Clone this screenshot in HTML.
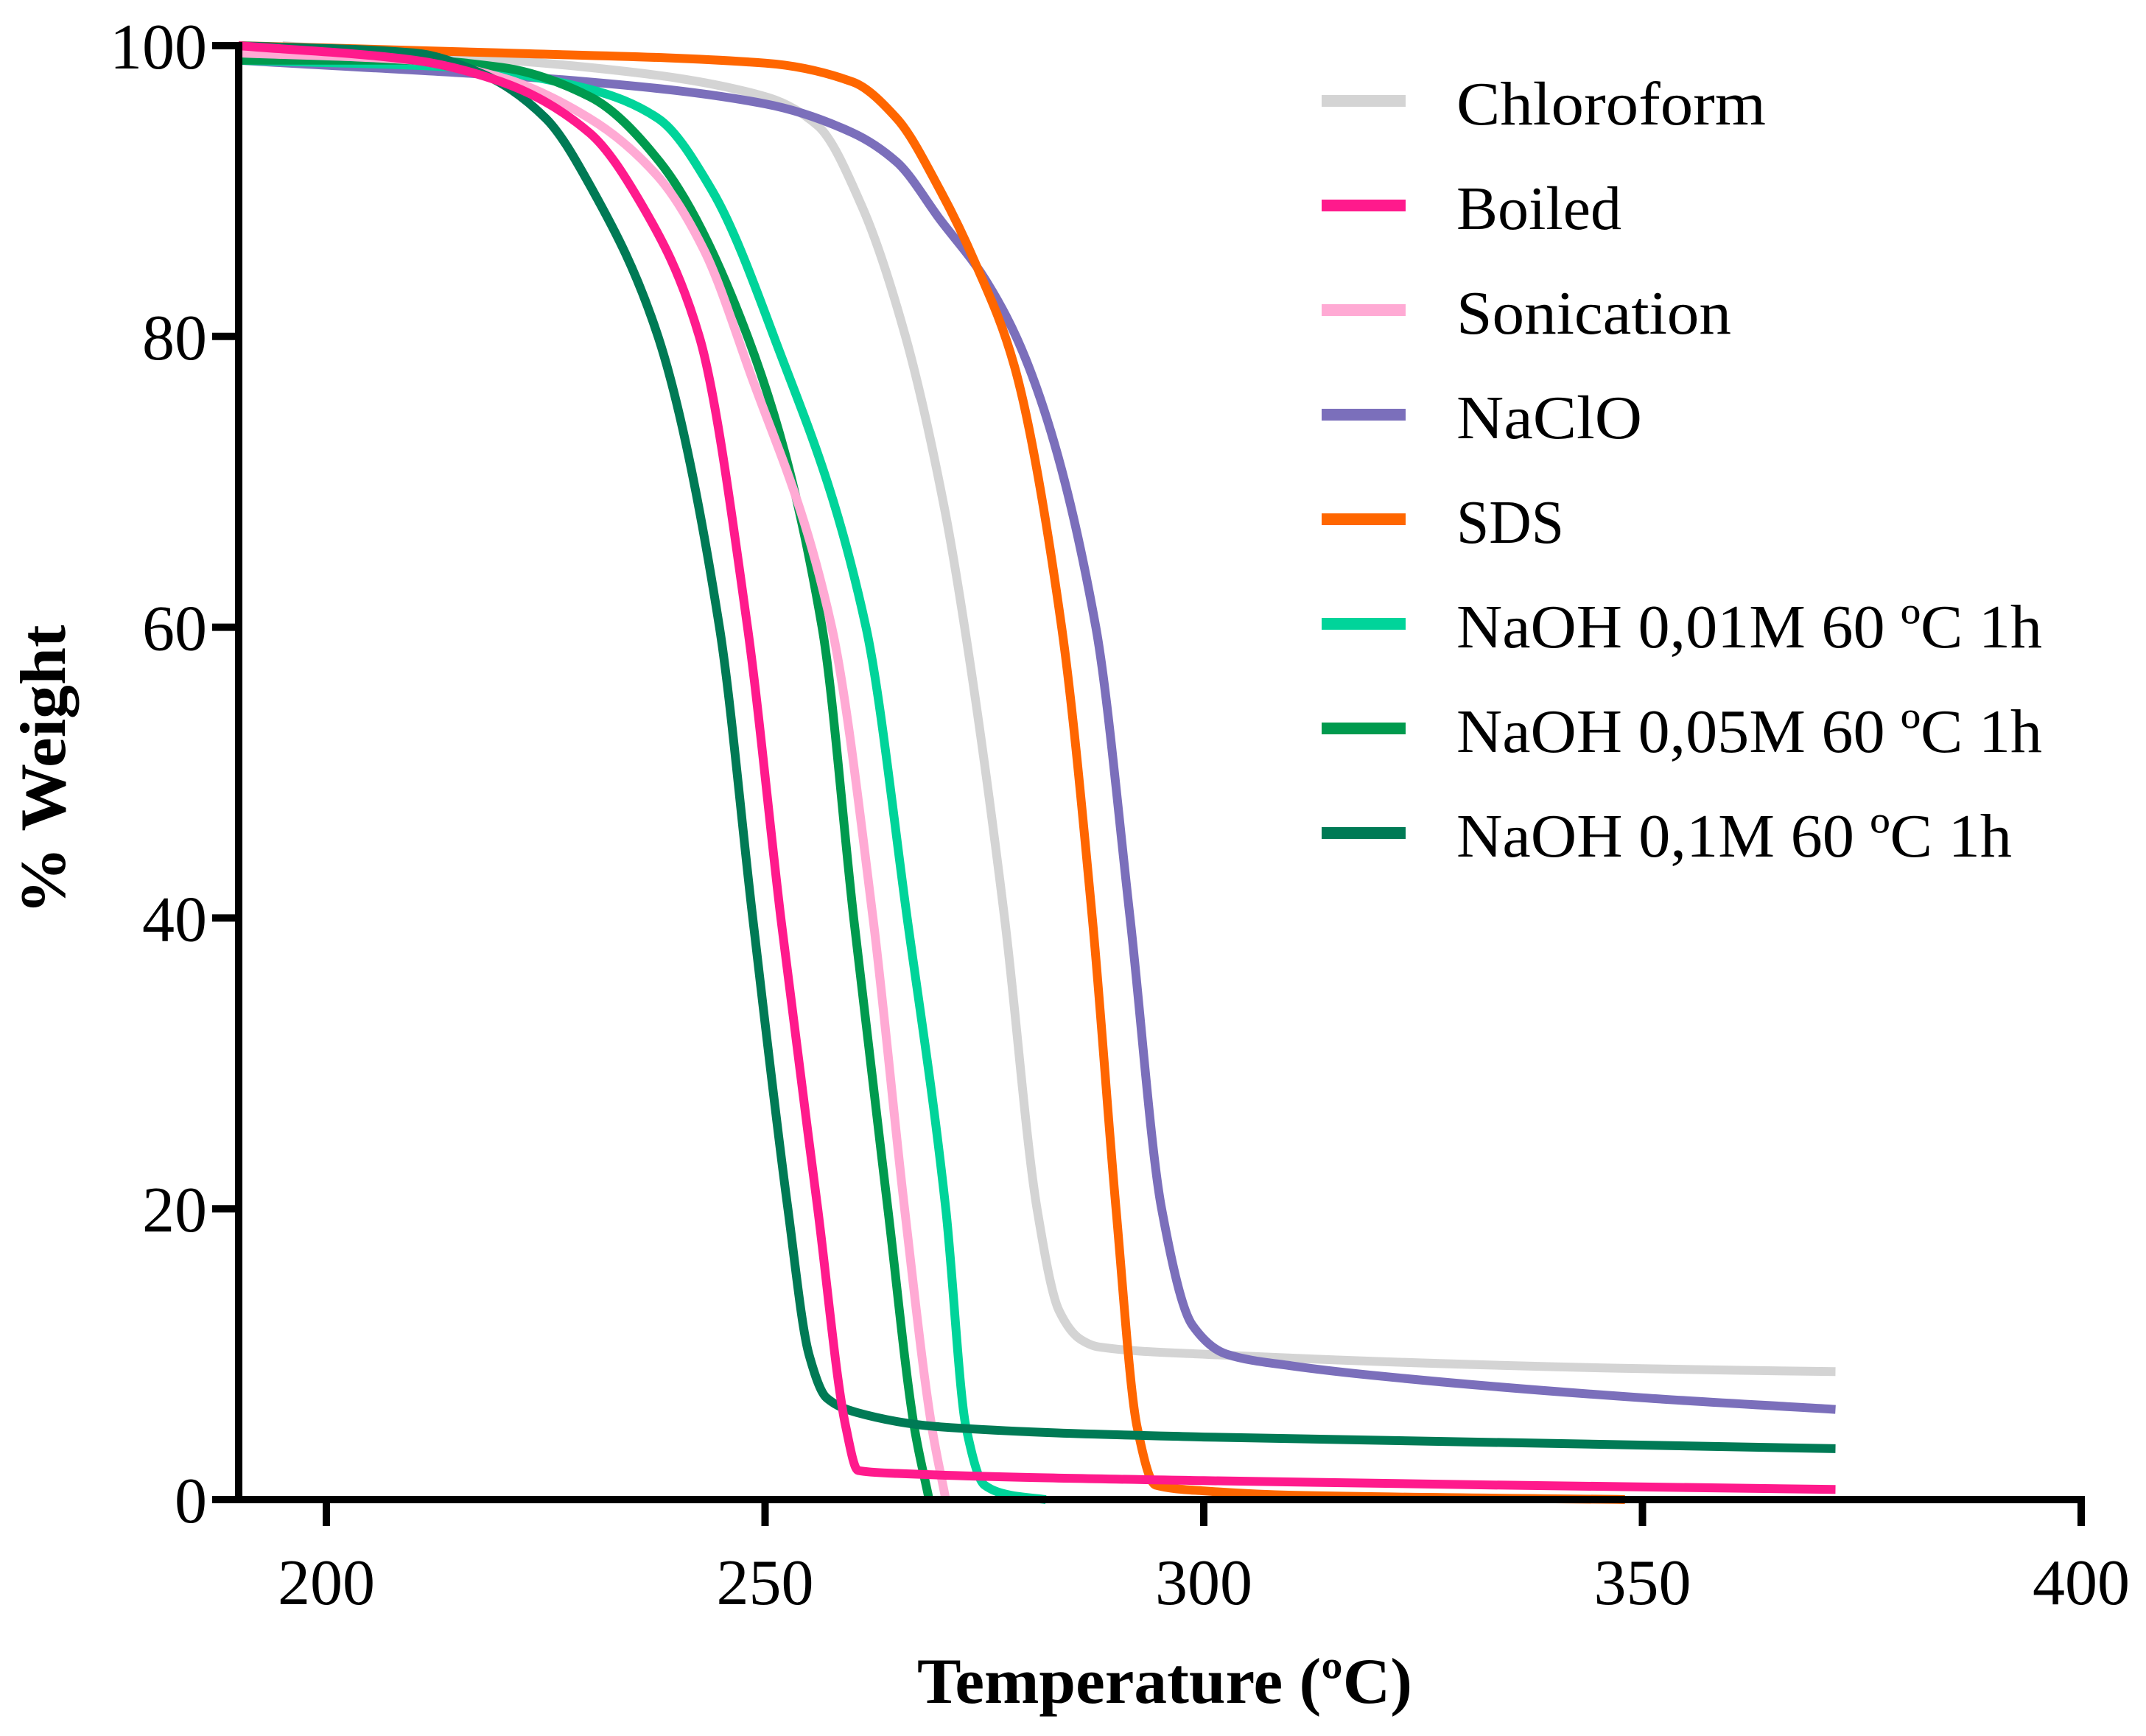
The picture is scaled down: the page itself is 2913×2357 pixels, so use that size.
<!DOCTYPE html>
<html><head><meta charset="utf-8"><style>
html,body{margin:0;padding:0;background:#fff;}
svg{display:block;}
text{font-family:"Liberation Serif",serif;fill:#000;}
</style></head><body>
<svg id="chart" width="2913" height="2357" viewBox="0 0 2913 2357" xmlns="http://www.w3.org/2000/svg">
<g id="plot"></g>
<g id="axes"></g>
<g id="legend"></g>
<text x="0" y="0" transform="translate(88,1045) rotate(-90)" text-anchor="middle" font-size="88" font-weight="bold" textLength="393" lengthAdjust="spacingAndGlyphs">% Weight</text>
<text x="1581" y="2312" text-anchor="middle" font-size="88" font-weight="bold" textLength="672" lengthAdjust="spacingAndGlyphs">Temperature (ºC)</text>
</svg>
<script>
const xTicks = [200, 250, 300, 350, 400];
const yTicks = [0, 20, 40, 60, 80, 100];
const seriesNames = ["Chloroform","Boiled","Sonication","NaClO","SDS","NaOH 0,01M 60 ºC 1h","NaOH 0,05M 60 ºC 1h","NaOH 0,1M 60 ºC 1h"];
const seriesColors = ["#d4d4d4","#ff1a8c","#ffaad4","#7b6fbb","#ff6600","#00d49a","#009a4e","#007a55"];
const chloroT = [195,230,250,256,261,266,270.5,273,277.3,281,283.5,286,288,300,350,372];
const chloroW = [100,98.5,96.5,94.5,89,80,68,59,40,20,13,11,10.5,10,9,8.8];
const boiledT = [190,210,220,230,236,242.5,248,251.8,256,259.2,260.6,265,300,372];
const boiledW = [100,99,97.5,94,89,80,60,40,20,5,2,1.8,1.3,0.7];
const sonicT = [190,210,220,230,237.8,243,248,257.6,262.3,265.9,269,270.6];
const sonicW = [99.5,99,97.8,95,91,86,78,60,40,20,5,0];
const naclT = [190,230,250,260,265,270,275,280,287.7,291.6,295.2,298.7,302.6,310,320,350,372];
const naclW = [99,97.5,96,94,92,88,84,78,60,40,20,12,10,9.2,8.5,7,6.2];
const sdsT = [190,220,250,260,265,270,274,278.4,283.8,287.3,290,292.4,294.5,300,310,348];
const sdsW = [100,99.5,98.8,97.5,95,90,85,78,60,40,20,5,1,0.6,0.3,0];
const naoh01T = [190,215,230,237.8,244,251,261.5,266.2,270.6,272.9,275,278,282];
const naoh01W = [99,98.5,97,95,90,80,60,40,20,5,1,0.3,0];
const naoh05T = [190,210,220,230,238,248,256.5,260.1,264,267,268.7];
const naoh05W = [99,99,98.5,96.5,92,80,60,40,20,5,0];
const naoh1T = [190,210,218,225,230.4,237.8,244.8,248.6,252.6,255,257,260.4,270,300,372];
const naoh1W = [100,99.5,98,95,90,80,60,40,20,10,7,6,5,4.3,3.5];
const seriesT = [chloroT,boiledT,sonicT,naclT,sdsT,naoh01T,naoh05T,naoh1T];
const seriesW = [chloroW,boiledW,sonicW,naclW,sdsW,naoh01W,naoh05W,naoh1W];
const drawOrder = [0,3,4,5,6,2,7,1];

const NS = "http://www.w3.org/2000/svg";
const X0 = 443, X1 = 2825, Y0 = 2036, Y1 = 62;
function sx(t){ return X0 + (t-200)*(X1-X0)/200; }
function sy(w){ return Y0 - w*(Y0-Y1)/100; }
const xLeft = 324;

function pathFrom(T, W){
  const xs = T.map(sx), ys = W.map(sy), n = xs.length;
  const d = [], m = new Array(n);
  for(let i=0;i<n-1;i++) d.push((ys[i+1]-ys[i])/(xs[i+1]-xs[i]));
  m[0]=d[0]; m[n-1]=d[n-2];
  for(let i=1;i<n-1;i++){
    if(d[i-1]*d[i]<=0) m[i]=0;
    else { const h0=xs[i]-xs[i-1], h1=xs[i+1]-xs[i];
      m[i]=3*(h0+h1)/((2*h1+h0)/d[i-1]+(h1+2*h0)/d[i]); }
  }
  let s = "M"+xs[0].toFixed(1)+","+ys[0].toFixed(1);
  for(let i=0;i<n-1;i++){
    const h=(xs[i+1]-xs[i])/3;
    s += " C"+(xs[i]+h).toFixed(1)+","+(ys[i]+m[i]*h).toFixed(1)+" "+(xs[i+1]-h).toFixed(1)+","+(ys[i+1]-m[i+1]*h).toFixed(1)+" "+xs[i+1].toFixed(1)+","+ys[i+1].toFixed(1);
  }
  return s;
}

const plot = document.getElementById("plot");
drawOrder.forEach(i=>{
  const el = document.createElementNS(NS,"path");
  el.setAttribute("d", pathFrom(seriesT[i], seriesW[i]));
  el.setAttribute("fill","none");
  el.setAttribute("stroke", seriesColors[i]);
  el.setAttribute("stroke-width","12");
  el.setAttribute("stroke-linejoin","round");
  
  
  plot.appendChild(el);
});

const axes = document.getElementById("axes");
function line(x1,y1,x2,y2,w){
  const l = document.createElementNS(NS,"line");
  l.setAttribute("x1",x1); l.setAttribute("y1",y1); l.setAttribute("x2",x2); l.setAttribute("y2",y2);
  l.setAttribute("stroke","#000"); l.setAttribute("stroke-width",w);
  return l;
}
const yAxis = line(xLeft, Y1-5, xLeft, Y0+5, 10);


axes.appendChild(yAxis);
const xAxis = line(xLeft-5, Y0, X1+5, Y0, 10);


axes.appendChild(xAxis);
xTicks.forEach(t=>{
  const tk = line(sx(t), Y0, sx(t), Y0+36, 10);
  
  
  axes.appendChild(tk);
  const tx = document.createElementNS(NS,"text");
  tx.setAttribute("x", sx(t)); tx.setAttribute("y", Y0+142);
  tx.setAttribute("text-anchor","middle"); tx.setAttribute("font-size","88");
  tx.textContent = t;
  
  
  axes.appendChild(tx);
});
yTicks.forEach(w=>{
  const tk = line(xLeft-36, sy(w), xLeft, sy(w), 10);
  
  
  axes.appendChild(tk);
  const tx = document.createElementNS(NS,"text");
  tx.setAttribute("x", 281); tx.setAttribute("y", sy(w)+31);
  tx.setAttribute("text-anchor","end"); tx.setAttribute("font-size","88");
  tx.textContent = w;
  
  
  axes.appendChild(tx);
});

const legendWidths = [420,224,373,252,146,795,795,754];
const legend = document.getElementById("legend");
seriesNames.forEach((n,i)=>{
  const cy = 137 + i*142;
  const l = document.createElementNS(NS,"line");
  l.setAttribute("x1",1794); l.setAttribute("x2",1908); l.setAttribute("y1",cy); l.setAttribute("y2",cy);
  l.setAttribute("stroke",seriesColors[i]); l.setAttribute("stroke-width","16");
  
  
  legend.appendChild(l);
  const tx = document.createElementNS(NS,"text");
  tx.setAttribute("x",1977); tx.setAttribute("y",cy+32);
  tx.setAttribute("font-size","84");
  tx.setAttribute("textLength", legendWidths[i]);
  tx.setAttribute("lengthAdjust","spacingAndGlyphs");
  tx.textContent = n;
  
  
  legend.appendChild(tx);
});
</script>
</body></html>
